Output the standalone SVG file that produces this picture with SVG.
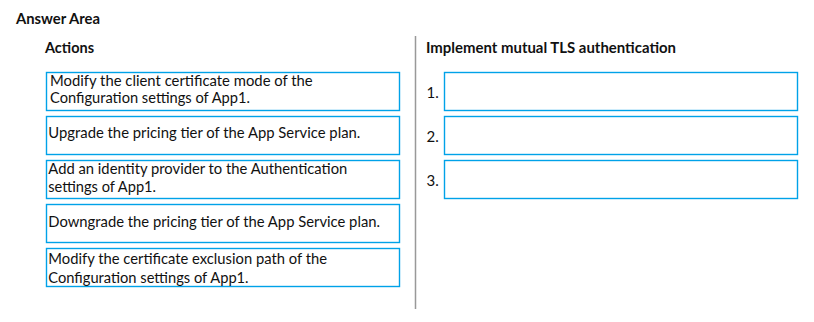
<svg xmlns="http://www.w3.org/2000/svg" width="814" height="322" viewBox="0 0 814 322">
<style>
.t{font-family:Lato,"Open Sans","Liberation Sans",sans-serif;font-size:15px;fill:#111}
.b{font-weight:bold}
.box{fill:#fff;stroke:#00a2e8;stroke-width:1.4}
</style>
<rect width="814" height="322" fill="#fff"/>
<text class="t b" x="16" y="23.5" textLength="84" lengthAdjust="spacingAndGlyphs">Answer Area</text>
<text class="t b" x="45" y="53" textLength="49" lengthAdjust="spacingAndGlyphs">Actions</text>
<text class="t b" x="426" y="52.5" textLength="250" lengthAdjust="spacingAndGlyphs">Implement mutual TLS authentication</text>
<line x1="415.5" y1="36" x2="415.5" y2="309" stroke="#999" stroke-width="1.5"/>
<g id="a1"><rect class="box" x="46.5" y="72.5" width="353" height="38"/>
<text class="t" x="50" y="86" textLength="262.7" lengthAdjust="spacingAndGlyphs">Modify the client certificate mode of the</text>
<text class="t" x="50" y="103.3" textLength="200" lengthAdjust="spacingAndGlyphs">Configuration settings of App1.</text></g>
<g id="a2"><rect class="box" x="46.5" y="116.5" width="353" height="38"/>
<text class="t" x="48.3" y="138.3" textLength="312" lengthAdjust="spacingAndGlyphs">Upgrade the pricing tier of the App Service plan.</text></g>
<g id="a3"><rect class="box" x="46.5" y="160.5" width="353" height="38"/>
<text class="t" x="48.3" y="174" textLength="299" lengthAdjust="spacingAndGlyphs">Add an identity provider to the Authentication</text>
<text class="t" x="48.3" y="192" textLength="107.7" lengthAdjust="spacingAndGlyphs">settings of App1.</text></g>
<g id="a4"><rect class="box" x="46.5" y="204.5" width="353" height="38"/>
<text class="t" x="48.3" y="226.7" textLength="331.7" lengthAdjust="spacingAndGlyphs">Downgrade the pricing tier of the App Service plan.</text></g>
<g id="a5"><rect class="box" x="46.5" y="248.5" width="353" height="38"/>
<text class="t" x="48.3" y="264" textLength="278.7" lengthAdjust="spacingAndGlyphs">Modify the certificate exclusion path of the</text>
<text class="t" x="48.3" y="282.5" textLength="200.3" lengthAdjust="spacingAndGlyphs">Configuration settings of App1.</text></g>
<g id="s1"><text class="t" x="426.5" y="97.7">1.</text><rect class="box" x="444.5" y="72.5" width="353" height="38"/></g>
<g id="s2"><text class="t" x="426.5" y="141.7">2.</text><rect class="box" x="444.5" y="116.5" width="353" height="38"/></g>
<g id="s3"><text class="t" x="426.5" y="185.7">3.</text><rect class="box" x="444.5" y="160.5" width="353" height="38"/></g>
<g id="connectors"></g>
</svg>
